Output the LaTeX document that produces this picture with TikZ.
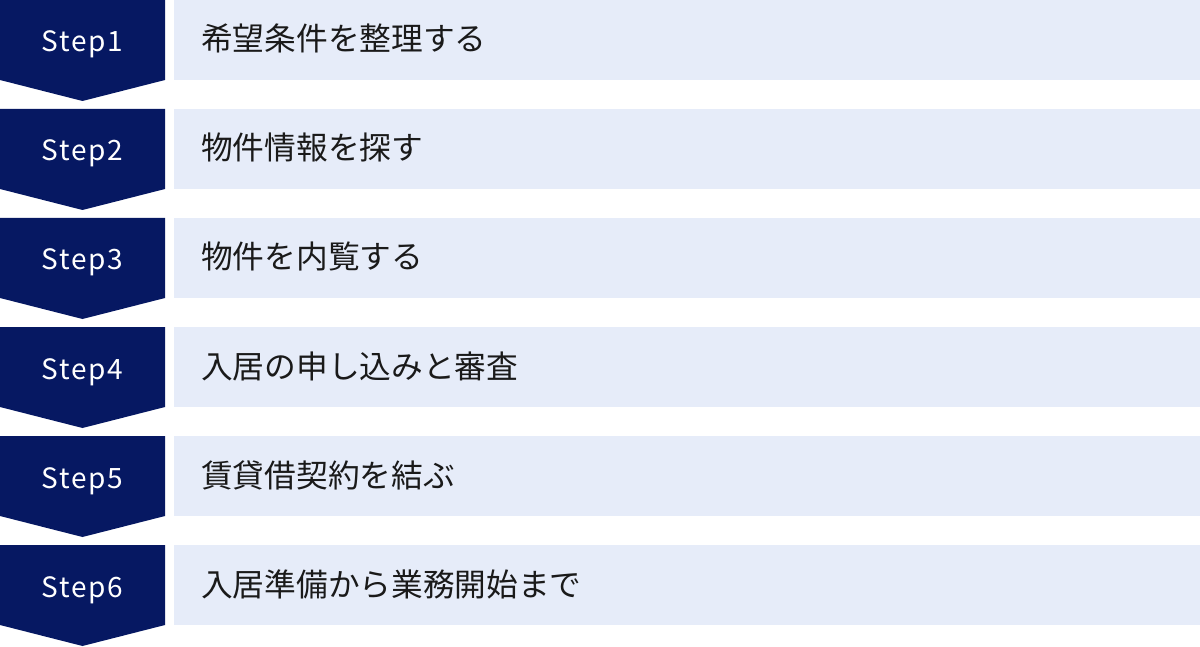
\documentclass[tikz,border=0pt]{standalone}
\usepackage{fontspec}
\setmainfont{Noto Sans CJK JP}
\newfontfamily\stepfont[LetterSpace=6]{Noto Sans CJK JP}
\definecolor{navy}{HTML}{061862}
\definecolor{pale}{HTML}{E6ECF9}
\definecolor{ink}{HTML}{1A1A1A}
\tikzset{
  stepshape/.style={fill=navy,draw=none},
  barshape/.style={fill=pale,draw=none},
  steplabel/.style={anchor=base,text=white,inner sep=0pt,font=\stepfont\fontsize{28}{28}\selectfont},
  bartext/.style={anchor=base west,inner sep=0pt,text=ink,font=\fontsize{31.7}{31.7}\selectfont},
}
\begin{document}
\begin{tikzpicture}[x=1pt,y=-1pt]
\useasboundingbox (0,0) rectangle (1200,647);
\foreach \i/\t in {1/希望条件を整理する,2/物件情報を探す,3/物件を内覧する,4/入居の申し込みと審査,5/賃貸借契約を結ぶ,6/入居準備から業務開始まで}{
  \pgfmathsetmacro\top{(\i-1)*109}
  \path[stepshape] (0,\top) -- (165,\top) -- (165,\top+80) -- (82.5,\top+101) -- (0,\top+80) -- cycle;
  \path[barshape] (174,\top) rectangle (1200,\top+80);
  \node[steplabel] (s\i) at (82.5,\top+52) {Step\i};
  \node[bartext] (t\i) at (201,\top+51) {\t};
}
\end{tikzpicture}
\end{document}
